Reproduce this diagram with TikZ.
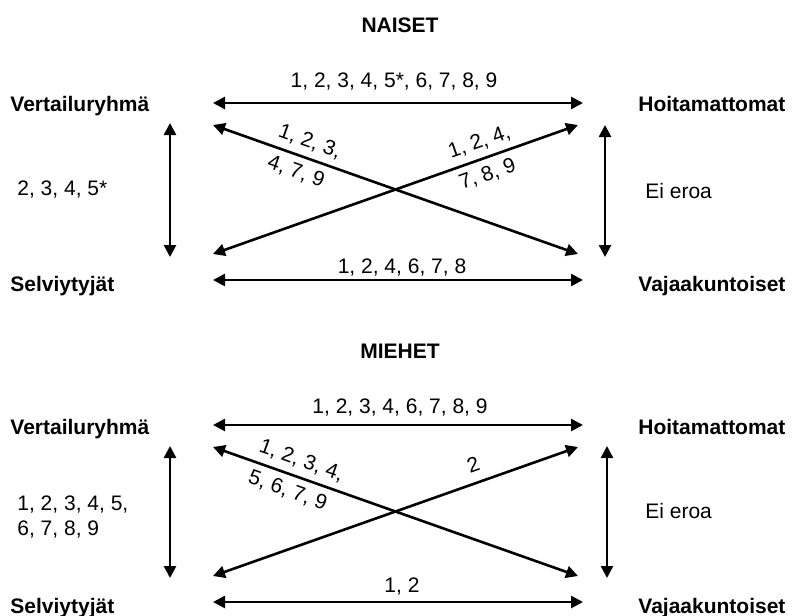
\documentclass[tikz,border=0pt]{standalone}
\usepackage{fontspec}
\setmainfont{Liberation Sans}
\usepackage{tikz}
\usetikzlibrary{arrows.meta}

\tikzset{
  group/.style={font=\fontsize{10.5}{14}\selectfont\bfseries, inner sep=0pt},
  result/.style={font=\fontsize{10.5}{14}\selectfont, inner sep=0pt},
  diff/.style={result, font=\fontsize{10.5}{16.5}\selectfont, align=left, sloped},
  link/.style={{Triangle[length=6pt,width=6pt]}-{Triangle[length=6pt,width=6pt]}, line width=1.3pt},
}

\begin{document}
\begin{tikzpicture}[x=0.5pt, y=-0.5pt]
\useasboundingbox (0,0) rectangle (801,615);

% Women
\node[group, anchor=base] (naiset) at (400,33) {NAISET};
\node[group, anchor=base west] (nVert) at (10,112) {Vertailuryhmä};
\node[group, anchor=base west] (nHoit) at (638,112) {Hoitamattomat};
\node[group, anchor=base west] (nSelv) at (10,291) {Selviytyjät};
\node[group, anchor=base west] (nVaja) at (638,291) {Vajaakuntoiset};

% arrow ends
\coordinate (nVh) at (213,103); \coordinate (nHh) at (583,103);
\coordinate (nVd) at (213,125); \coordinate (nHd) at (578,125);
\coordinate (nSd) at (213,254); \coordinate (nJd) at (578,254);
\coordinate (nSh) at (213,280); \coordinate (nJh) at (583,280);
\coordinate (nVv) at (170,123); \coordinate (nSv) at (170,257);
\coordinate (nHv) at (605,125); \coordinate (nJv) at (605,257);

\draw[link] (nVh) -- (nHh);
\draw[link] (nSh) -- (nJh);
\draw[link] (nVd) -- node[diff, pos=0.25] {1, 2, 3,\\4, 7, 9} (nJd);
\draw[link] (nSd) -- node[diff, pos=0.745] {1, 2, 4,\\7, 8, 9} (nHd);
\draw[link] (nVv) -- (nSv);
\draw[link] (nHv) -- (nJv);

\node[result, anchor=base] (nVH) at (394,88) {1, 2, 3, 4, 5*, 6, 7, 8, 9};
\node[result, anchor=base] (nSJ) at (402,273) {1, 2, 4, 6, 7, 8};
\node[result, anchor=base west] (nVS) at (17,195) {2, 3, 4, 5*};
\node[result, anchor=base west] (nHJ) at (645,198) {Ei eroa};

% Men
\node[group, anchor=base] (miehet) at (400,358) {MIEHET};
\begin{scope}[shift={(0,322)}]
\node[group, anchor=base west] (mVert) at (10,112) {Vertailuryhmä};
\node[group, anchor=base west] (mHoit) at (638,112) {Hoitamattomat};
\node[group, anchor=base west] (mSelv) at (10,291) {Selviytyjät};
\node[group, anchor=base west] (mVaja) at (638,291) {Vajaakuntoiset};

\coordinate (mVh) at (213,103); \coordinate (mHh) at (583,103);
\coordinate (mVd) at (213,125); \coordinate (mHd) at (578,125);
\coordinate (mSd) at (213,254); \coordinate (mJd) at (578,254);
\coordinate (mSh) at (213,280); \coordinate (mJh) at (583,280);
\coordinate (mVv) at (170,124); \coordinate (mSv) at (170,256);
\coordinate (mHv) at (607,124); \coordinate (mJv) at (607,256);

\draw[link] (mVh) -- (mHh);
\draw[link] (mSh) -- (mJh);
\draw[link] (mVd) -- node[diff, pos=0.227] {1, 2, 3, 4,\\5, 6, 7, 9} (mJd);
\draw[link] (mSd) -- node[result, sloped, above=5pt, pos=0.73] {2} (mHd);
\draw[link] (mVv) -- (mSv);
\draw[link] (mHv) -- (mJv);

\node[result, anchor=base] (mVH) at (400,91) {1, 2, 3, 4, 6, 7, 8, 9};
\node[result, anchor=base] (mSJ) at (402,270) {1, 2};
\node[result, anchor=north west, align=left, font=\fontsize{10.5}{12.5}\selectfont] (mVS) at (17,173) {1, 2, 3, 4, 5,\\6, 7, 8, 9};
\node[result, anchor=base west] (mHJ) at (645,196) {Ei eroa};
\end{scope}
\end{tikzpicture}
\end{document}
